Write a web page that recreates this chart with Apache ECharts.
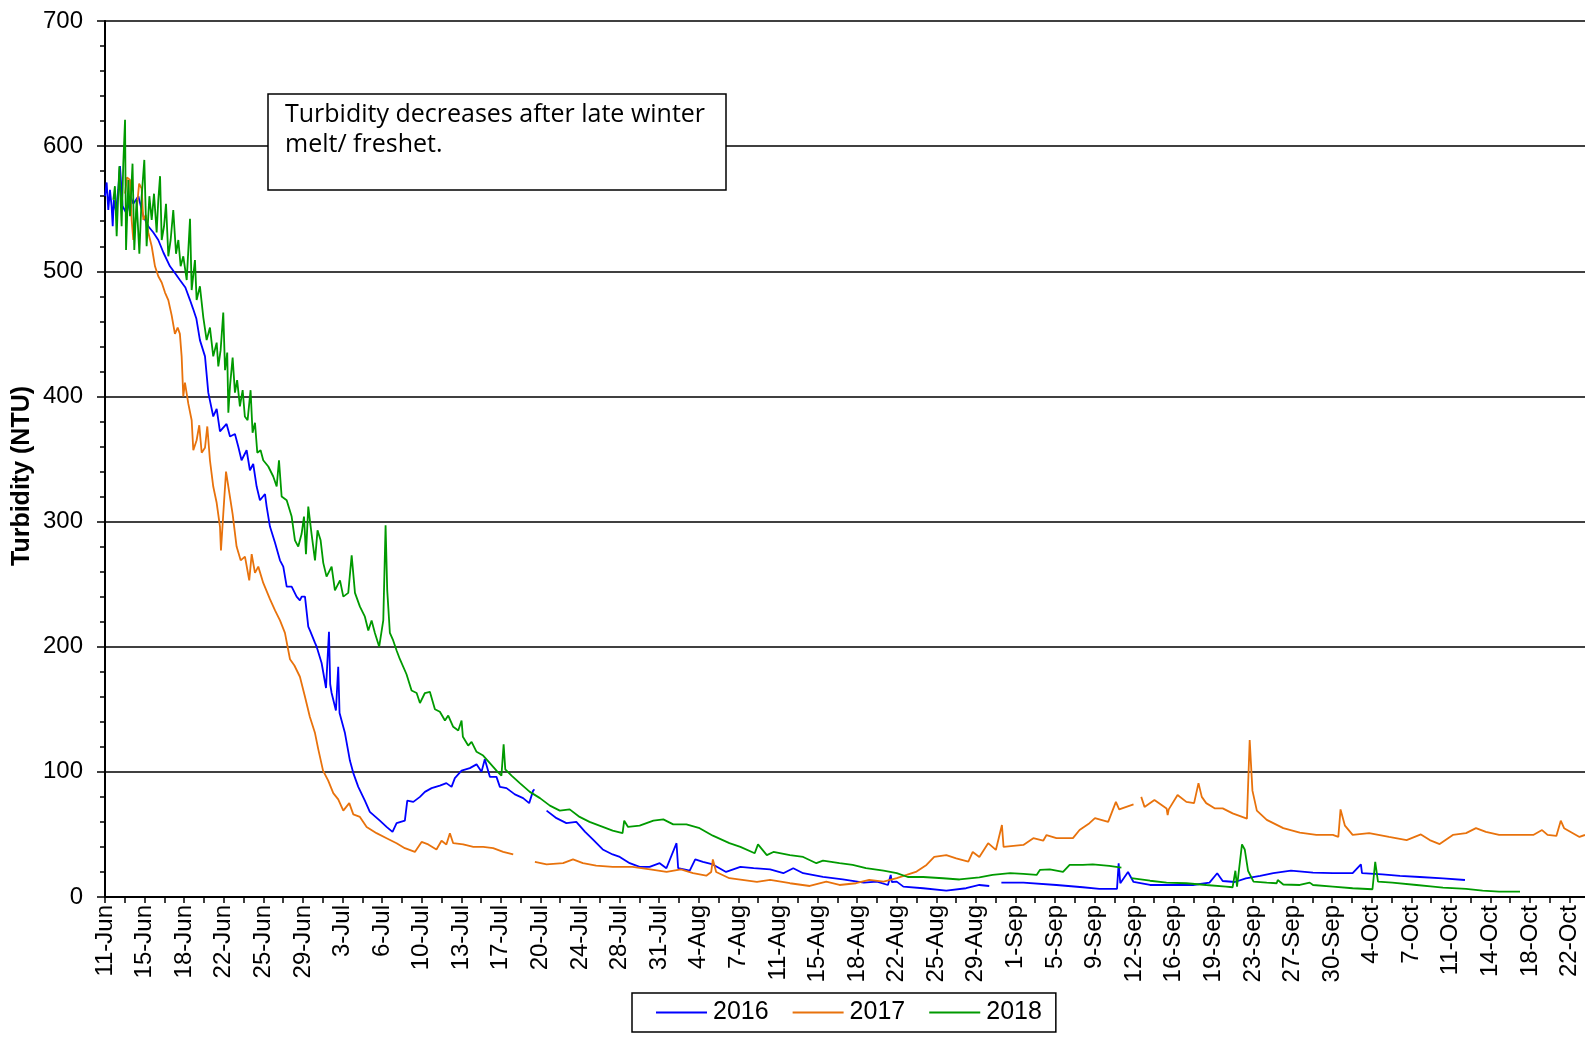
<!DOCTYPE html>
<html>
<head>
<meta charset="utf-8">
<script src="https://cdn.jsdelivr.net/npm/echarts/dist/echarts.min.js"></script>
<style>
  html, body { margin: 0; padding: 0; background: #fff; }
  #chart { width: 1585px; height: 1037px; }
</style>
</head>
<body>
<div id="chart"></div>
<script>
// x = days after 11-Jun, y = turbidity (NTU). null = logger gap
var dateLabels = ['11-Jun', '15-Jun', '18-Jun', '22-Jun', '25-Jun', '29-Jun', '3-Jul', '6-Jul', '10-Jul', '13-Jul',
    '17-Jul', '20-Jul', '24-Jul', '28-Jul', '31-Jul', '4-Aug', '7-Aug', '11-Aug', '15-Aug', '18-Aug',
    '22-Aug', '25-Aug', '29-Aug', '1-Sep', '5-Sep', '9-Sep', '12-Sep', '16-Sep', '19-Sep', '23-Sep',
    '27-Sep', '30-Sep', '4-Oct', '7-Oct', '11-Oct', '14-Oct', '18-Oct', '22-Oct'];
var lastLabelDay = 133;   // 22-Oct
var axisMaxDay = 134.4;

var turb2016 = [
    [0, 560], [0.15, 571], [0.3, 549], [0.45, 565], [0.6, 552], [0.7, 536], [0.8, 557], [1.0, 548], [1.2, 565], [1.36, 584],
    [1.6, 552], [1.97, 546], [2.3, 560], [2.57, 554], [3.03, 560], [3.48, 544], [3.93, 536], [4.39, 531], [4.84, 525], [5.3, 515],
    [5.9, 504], [6.4, 498], [6.8, 493], [7.3, 487], [7.72, 477], [8.0, 470], [8.3, 462], [8.62, 445], [9.08, 432], [9.38, 403],
    [9.83, 384], [10.14, 390], [10.44, 372], [11.04, 378], [11.35, 368], [11.8, 370], [12.1, 360], [12.4, 349], [12.86, 357], [13.16, 341],
    [13.46, 346], [13.77, 328], [14.07, 317], [14.53, 322], [14.68, 312], [14.98, 296], [15.44, 283], [15.89, 269], [16.19, 264], [16.5, 248],
    [16.95, 248], [17.4, 240], [17.7, 237], [17.86, 240], [18.16, 240], [18.46, 216], [18.61, 213], [19.07, 203], [19.22, 200], [19.67, 187],
    [20.07, 167], [20.34, 212], [20.45, 170], [20.58, 163], [20.97, 149], [21.18, 184], [21.3, 147], [21.79, 131], [22.24, 109], [22.55, 99],
    [23.0, 88], [23.6, 77], [24.05, 68], [24.96, 61], [25.57, 56], [26.11, 52], [26.48, 59], [27.23, 61], [27.45, 77], [28.0, 76],
    [28.6, 80], [29.05, 84], [29.66, 87], [30.41, 89], [31.0, 91], [31.47, 88], [31.77, 95], [32.38, 101], [33.13, 103], [33.74, 106],
    [34.19, 100], [34.49, 110], [34.95, 96], [35.55, 96], [35.86, 88], [36.46, 87], [37.22, 82], [37.97, 79], [38.52, 75], [38.88, 85],
    [39.0, 86], [39.5, null], [40.1, 69], [41.0, 63], [41.9, 59], [42.8, 60], [43.6, 52], [44.3, 46], [45.2, 38], [46.1, 34],
    [46.75, 32], [47.65, 27], [48.55, 24], [49.46, 24], [50.37, 27], [50.98, 23], [51.9, 43], [52.05, 23], [53.1, 21], [53.6, 30],
    [54.3, 28], [55.2, 26], [56.4, 20], [57.7, 24], [58.9, 23], [60.4, 22], [61.6, 19], [62.5, 23], [63.4, 19], [65.2, 16],
    [67.0, 14], [68.9, 11.5], [70.1, 12.3], [71.1, 9.6], [71.35, 17.6], [71.45, 12], [71.9, 12.3], [72.5, 8.3], [74.3, 7], [76.4, 5.1],
    [78.2, 7], [79.4, 9.6], [80.3, 8.8], [80.8, null], [81.4, 11.5], [83.4, 11.5], [86.4, 9.6], [88.8, 7.8], [90.3, 6.5], [91.9, 6.5],
    [92.05, 27], [92.2, 11], [92.9, 20], [93.4, 12], [94.9, 9.6], [96.4, 9.6], [98.8, 9.6], [100.3, 11.5], [101.0, 19], [101.5, 12.8],
    [102.6, 12], [103.6, 14.9], [104.9, 16.8], [106.1, 19], [107.7, 21], [109.7, 19.5], [111.5, 19], [113.3, 19], [114.05, 26], [114.15, 19],
    [116.0, 18], [117.6, 16.8], [119.4, 16], [121.5, 14.9], [123.5, 13.6]
];

var turb2017 = [
    [1.82, 562], [2.0, 575], [2.27, 573], [2.42, 541], [2.57, 525], [2.87, 549], [3.1, 570], [3.33, 566], [3.48, 541], [3.7, 545],
    [3.93, 531], [4.24, 520], [4.54, 504], [4.84, 496], [5.15, 491], [5.45, 483], [5.75, 477], [6.05, 465], [6.35, 450], [6.6, 455],
    [6.8, 450], [6.96, 432], [7.11, 400], [7.26, 411], [7.57, 394], [7.87, 381], [8.02, 357], [8.32, 365], [8.56, 377], [8.78, 355],
    [9.08, 359], [9.29, 376], [9.53, 349], [9.83, 328], [10.14, 315], [10.44, 296], [10.53, 277], [10.74, 306], [10.99, 340], [11.29, 323],
    [11.59, 306], [11.95, 280], [12.32, 269], [12.71, 272], [13.1, 253], [13.32, 274], [13.62, 259], [13.92, 264], [14.37, 251], [14.98, 238],
    [15.44, 229], [15.89, 221], [16.34, 211], [16.8, 190], [17.2, 185], [17.7, 176], [18.16, 160], [18.6, 144], [19.07, 131], [19.37, 118],
    [19.8, 101], [20.27, 93], [20.73, 83], [21.18, 78], [21.64, 69], [22.18, 75], [22.55, 66], [23.15, 64], [23.76, 56], [24.66, 51],
    [25.57, 47], [26.48, 43], [27.23, 39], [28.14, 36], [28.75, 44], [29.35, 42], [30.1, 38], [30.56, 45], [31.0, 42], [31.32, 51],
    [31.62, 43], [32.53, 42], [33.44, 40], [34.34, 40], [35.25, 39], [36.16, 36], [37.07, 34], [38.0, null], [39.04, 28], [40.1, 26],
    [41.6, 27], [42.5, 30], [43.4, 27], [44.6, 25], [46.1, 24], [47.9, 24], [49.5, 22], [51.0, 20], [52.3, 22], [53.4, 19],
    [54.6, 17], [55.05, 20], [55.2, 30], [55.5, 20], [56.7, 15], [59.2, 12], [60.4, 13.6], [62.2, 11], [64.0, 8.8], [65.5, 12.3],
    [66.7, 9.6], [68.2, 11], [69.4, 13.6], [70.7, 12.3], [71.9, 15], [72.8, 17.6], [73.7, 20.3], [74.6, 25.6], [75.3, 32], [76.4, 33.5],
    [77.3, 30.9], [78.4, 28.3], [78.8, 36], [79.4, 32], [80.2, 43], [80.9, 37.6], [81.45, 57.5], [81.6, 40], [83.4, 41.6], [84.3, 47],
    [85.2, 45], [85.5, 49.5], [86.4, 47], [87.9, 47], [88.5, 53.5], [89.4, 59], [89.9, 63], [91.1, 60], [91.8, 76], [92.1, 70],
    [93.4, 74], [93.7, null], [94.1, 80], [94.4, 72], [95.3, 77.5], [96.4, 70.8], [96.5, 65.5], [96.6, 70], [97.4, 81.5], [98.2, 76],
    [98.9, 75], [99.3, 91], [99.6, 80], [100.0, 75], [100.8, 70.8], [101.5, 70.8], [102.4, 66.8], [103.7, 62.6], [103.95, 125.5], [104.2, 85],
    [104.6, 69], [105.5, 61.6], [107.0, 55], [108.5, 51.5], [110.0, 49.6], [111.5, 49.6], [112.0, 48], [112.2, 70], [112.6, 57], [113.3, 49.6],
    [114.8, 51], [116.6, 48], [118.2, 45.5], [119.5, 50], [120.3, 45.5], [121.2, 42.3], [122.4, 49.6], [123.6, 51], [124.5, 55], [125.4, 52],
    [126.6, 49.6], [128.2, 49.6], [129.7, 49.6], [130.5, 53.5], [131.0, 49.6], [131.8, 48.8], [132.2, 61], [132.5, 55], [133.3, 51], [133.9, 48],
    [134.4, 49.6]
];

var turb2018 = [
    [0.76, 557], [0.9, 568], [1.06, 528], [1.3, 584], [1.51, 536], [1.66, 586], [1.82, 621], [1.91, 517], [2.12, 573], [2.27, 544],
    [2.5, 586], [2.66, 517], [2.87, 557], [3.12, 514], [3.33, 560], [3.57, 589], [3.78, 520], [4.03, 560], [4.24, 541], [4.45, 562],
    [4.69, 531], [4.84, 557], [5.0, 576], [5.15, 525], [5.36, 536], [5.54, 554], [5.75, 512], [5.96, 525], [6.2, 549], [6.45, 514],
    [6.66, 525], [6.87, 504], [7.11, 512], [7.42, 493], [7.72, 542], [7.87, 485], [8.17, 509], [8.32, 477], [8.62, 488], [8.93, 463],
    [9.23, 445], [9.53, 455], [9.83, 432], [10.14, 443], [10.29, 424], [10.5, 437], [10.74, 467], [10.9, 421], [11.1, 435], [11.2, 387],
    [11.35, 408], [11.59, 431], [11.8, 403], [12.0, 413], [12.25, 392], [12.5, 405], [12.7, 384], [12.95, 381], [13.22, 405], [13.4, 371],
    [13.62, 379], [13.83, 355], [14.13, 357], [14.37, 349], [14.83, 344], [15.28, 336], [15.59, 328], [15.8, 349], [16.04, 320], [16.5, 317],
    [16.95, 304], [17.25, 285], [17.55, 280], [17.85, 290], [18.07, 304], [18.25, 274], [18.46, 312], [18.76, 290], [19.07, 269], [19.3, 293],
    [19.58, 285], [19.82, 267], [20.12, 256], [20.58, 264], [20.88, 245], [21.34, 253], [21.64, 240], [22.09, 243], [22.4, 273], [22.7, 243],
    [23.15, 232], [23.6, 224], [23.91, 213], [24.21, 221], [24.51, 211], [24.9, 200], [25.27, 221], [25.48, 297], [25.63, 245], [25.87, 211],
    [26.17, 205], [26.48, 197], [26.78, 190], [27.38, 178], [27.84, 165], [28.3, 163], [28.6, 155], [29.05, 163], [29.5, 164], [29.96, 150],
    [30.41, 148], [30.87, 141], [31.17, 145], [31.62, 136], [32.08, 133], [32.38, 141], [32.5, 128], [32.98, 121], [33.29, 124], [33.74, 116],
    [34.34, 113], [34.95, 107], [35.55, 101], [36.0, 97], [36.2, 122], [36.35, 102], [36.92, 97], [37.67, 91], [38.58, 84], [39.5, 79],
    [40.4, 73], [41.3, 69], [42.2, 70], [43.1, 64], [44.0, 60], [44.9, 57], [46.1, 53], [47.0, 51], [47.15, 61], [47.5, 56],
    [48.55, 57], [49.8, 61], [50.7, 62], [51.6, 58], [52.8, 58], [54.0, 55], [55.2, 49], [56.7, 43], [57.7, 40], [59.0, 35],
    [59.3, 42], [60.1, 33.5], [60.7, 36], [62.2, 33.5], [63.4, 32], [64.6, 27], [65.2, 29], [66.7, 27], [67.9, 25.6], [69.1, 23],
    [70.7, 21], [71.9, 19], [72.9, 16], [74.3, 16], [76.1, 15], [77.6, 14], [79.4, 15.7], [80.6, 17.6], [82.2, 19], [83.4, 18.4],
    [84.6, 17.6], [84.9, 21.6], [85.8, 22], [87.0, 20], [87.6, 25.6], [88.8, 25.6], [89.7, 26], [91.2, 24.8], [92.3, 23.5], [92.7, null],
    [93.2, 15], [94.9, 13], [96.4, 11.5], [98.2, 11], [100.0, 9.6], [101.8, 8.3], [102.4, 7.8], [102.65, 21], [102.8, 8.3], [103.25, 42],
    [103.5, 38], [103.8, 21], [104.3, 12.3], [105.5, 11.5], [106.4, 11], [106.5, 13.6], [107.0, 10], [108.5, 9.6], [109.4, 11.5], [109.7, 9.6],
    [111.5, 8.3], [113.3, 7], [115.1, 6.2], [115.35, 28], [115.6, 12.3], [116.9, 11.5], [119.1, 9.6], [120.6, 8.3], [121.5, 7.5], [123.6, 6.5],
    [125.1, 5.1], [126.6, 4.3], [128.5, 4.3]
];

var chart = echarts.init(document.getElementById('chart'));

var labelStep = lastLabelDay / (dateLabels.length - 1);
var labelDays = [];
for (var i = 0; i < dateLabels.length; i++) {
    labelDays.push(i * labelStep);
}
var tickDays = [];
for (var j = 0; j * labelStep / 2 <= axisMaxDay; j++) {
    tickDays.push(j * labelStep / 2);
}

var toSeries = function (arr) {
    return arr.map(function (p) {
        return [p[0], p[1] === null ? '-' : p[1]];
    });
};

var FONT = '"Liberation Sans", Arial, sans-serif';

var lineSeries = function (name, color, arr) {
    return {
        name: name,
        type: 'line',
        data: toSeries(arr),
        symbol: 'none',
        showSymbol: false,
        connectNulls: false,
        lineStyle: { color: color, width: 1.8 },
        itemStyle: { color: color }
    };
};

var option = {
    animation: false,
    backgroundColor: '#fff',
    grid: { left: 105, right: 0, top: 21, bottom: 140 },
    legend: {
        left: 632,
        top: 993,
        icon: 'rect',
        itemWidth: 51,
        itemHeight: 2,
        itemGap: 24,
        padding: [7, 14, 7, 24],
        borderColor: '#000',
        borderWidth: 1.5,
        textStyle: { fontFamily: FONT, fontSize: 25, color: '#000', padding: [0, 0, 0, 1] },
        data: ['2016', '2017', '2018']
    },
    xAxis: {
        type: 'value',
        min: 0,
        max: axisMaxDay,
        axisLine: { lineStyle: { color: '#000', width: 2 } },
        axisTick: {
            customValues: tickDays,
            length: 6,
            lineStyle: { color: '#000', width: 1.5 }
        },
        axisLabel: {
            customValues: labelDays,
            rotate: 90,
            margin: 8,
            color: '#000',
            fontFamily: FONT,
            fontSize: 24,
            formatter: function (v) {
                return dateLabels[Math.round(v / labelStep)];
            }
        },
        splitLine: { show: false }
    },
    yAxis: [{
        type: 'value',
        min: 0,
        max: 700,
        interval: 100,
        axisLine: { show: true, lineStyle: { color: '#000', width: 2 } },
        axisTick: { show: true, length: 8, lineStyle: { color: '#000', width: 1.5 } },
        minorTick: { show: true, splitNumber: 5, length: 5, lineStyle: { color: '#000', width: 1.5 } },
        axisLabel: { margin: 22, color: '#000', fontFamily: FONT, fontSize: 24 },
        splitLine: { show: true, lineStyle: { color: '#000', width: 1.5 } }
    }, {
        // inside half of the crossing minor ticks
        type: 'value',
        position: 'left',
        min: 0,
        max: 700,
        interval: 100,
        axisLine: { show: false },
        axisTick: { show: false },
        minorTick: { show: true, splitNumber: 5, length: 5, lineStyle: { color: '#000', width: 1.5 } },
        axisLabel: { show: false },
        splitLine: { show: false }
    }],
    graphic: [{
        type: 'text',
        x: 22,
        y: 476,
        rotation: Math.PI / 2,
        z: 100,
        style: {
            text: 'Turbidity (NTU)',
            font: 'bold 25px ' + FONT,
            fill: '#000',
            textAlign: 'center',
            textVerticalAlign: 'middle'
        }
    }, {
        type: 'rect',
        x: 268,
        y: 94,
        z: 100,
        shape: { width: 458, height: 96 },
        style: { fill: '#fff', stroke: '#000', lineWidth: 1.5 }
    }, {
        type: 'text',
        x: 285,
        y: 100,
        z: 101,
        style: {
            text: 'Turbidity decreases after late winter\nmelt/ freshet.',
            font: '25px "Open Sans", Lato, sans-serif',
            lineHeight: 30,
            fill: '#000',
            textVerticalAlign: 'top'
        }
    }],
    series: [
        lineSeries('2016', '#0000ff', turb2016),
        lineSeries('2017', '#e8720c', turb2017),
        lineSeries('2018', '#009a00', turb2018)
    ]
};

chart.setOption(option);
</script>
</body>
</html>
